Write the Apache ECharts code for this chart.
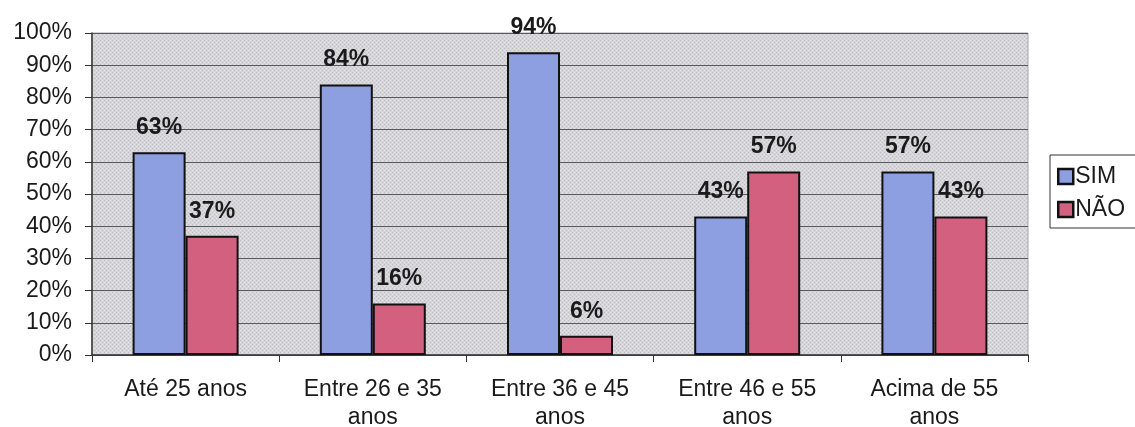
<!DOCTYPE html>
<html>
<head>
<meta charset="utf-8">
<script src="https://cdn.jsdelivr.net/npm/echarts@6/dist/echarts.min.js"></script>
<style>
  html, body { margin: 0; padding: 0; background: #fff; }
  #chart { width: 1135px; height: 427px; }
</style>
</head>
<body>
<div id="chart"></div>
<script>
// Faixas etárias e percentuais de respostas
const categorias = ['Até 25 anos', 'Entre 26 e 35\nanos', 'Entre 36 e 45\nanos', 'Entre 46 e 55\nanos', 'Acima de 55\nanos'];
const sim = [63, 84, 94, 43, 57];
const nao = [37, 16, 6, 57, 43];
const seriesNames = ['SIM', 'NÃO'];

// Small dotted tile for the plot-area fill
function makeDots() {
  const c = document.createElement('canvas');
  c.width = 4; c.height = 4;
  const g = c.getContext('2d');
  g.fillStyle = '#d6d6da';
  g.fillRect(0, 0, 4, 4);
  g.fillStyle = '#bdbdc2';
  g.fillRect(0, 0, 1, 1);
  g.fillRect(2, 2, 1, 1);
  g.fillStyle = '#e4e4e6';
  g.fillRect(2, 0, 1, 1);
  g.fillRect(0, 2, 1, 1);
  return c;
}

const font = '"Liberation Sans", Arial, sans-serif';
const chart = echarts.init(document.getElementById('chart'), null, { renderer: 'canvas' });

const labelStyle = {
  show: true,
  position: 'top',
  distance: 13,
  formatter: '{c}%',
  fontFamily: font,
  fontSize: 23,
  fontWeight: 'bold',
  color: '#1a1a1a'
};

chart.setOption({
  animation: false,
  backgroundColor: '#ffffff',
  textStyle: { fontFamily: font },
  grid: {
    left: 92, right: 107, top: 33, bottom: 72,
    outerBoundsMode: 'none',
    containLabel: false,
    show: true,
    backgroundColor: { image: makeDots(), repeat: 'repeat' },
    borderColor: '#a8a8ac',
    borderWidth: 1
  },
  legend: {
    orient: 'vertical',
    left: 1050, top: 155,
    padding: [10, 12, 7, 7],
    itemGap: 10,
    itemWidth: 15, itemHeight: 15,
    icon: 'rect',
    borderColor: '#333',
    borderWidth: 1,
    backgroundColor: '#fff',
    itemStyle: { borderColor: '#111', borderWidth: 2.5 },
    textStyle: { fontFamily: font, fontSize: 23, color: '#1a1a1a', padding: [0, 0, 0, -3] },
    data: seriesNames
  },
  xAxis: {
    type: 'category',
    data: categorias,
    axisLine: { lineStyle: { color: '#333', width: 1.5 } },
    axisTick: { show: true, alignWithLabel: false, length: 7, lineStyle: { color: '#333' } },
    axisLabel: { fontFamily: font, fontSize: 23, color: '#1a1a1a', margin: 21, lineHeight: 28, interval: 0 },
    splitLine: { show: false }
  },
  yAxis: {
    type: 'value',
    min: 0, max: 100, interval: 10,
    axisLine: { show: true, lineStyle: { color: '#333', width: 1.5 } },
    axisTick: { show: true, length: 7, lineStyle: { color: '#333' } },
    axisLabel: { formatter: '{value}%', fontFamily: font, fontSize: 23, color: '#1a1a1a', margin: 20 },
    splitLine: { show: true, lineStyle: { color: '#5a5a5e', width: 1.2 } }
  },
  series: [
    {
      name: seriesNames[0],
      type: 'bar',
      data: sim,
      barWidth: 53,
      barGap: '0%',
      itemStyle: { color: '#8d9fe0', borderColor: '#111', borderWidth: 2 },
      label: labelStyle
    },
    {
      name: seriesNames[1],
      type: 'bar',
      data: nao,
      barWidth: 53,
      barGap: '0%',
      itemStyle: { color: '#d3607f', borderColor: '#111', borderWidth: 2 },
      label: labelStyle
    }
  ]
});
</script>
</body>
</html>
